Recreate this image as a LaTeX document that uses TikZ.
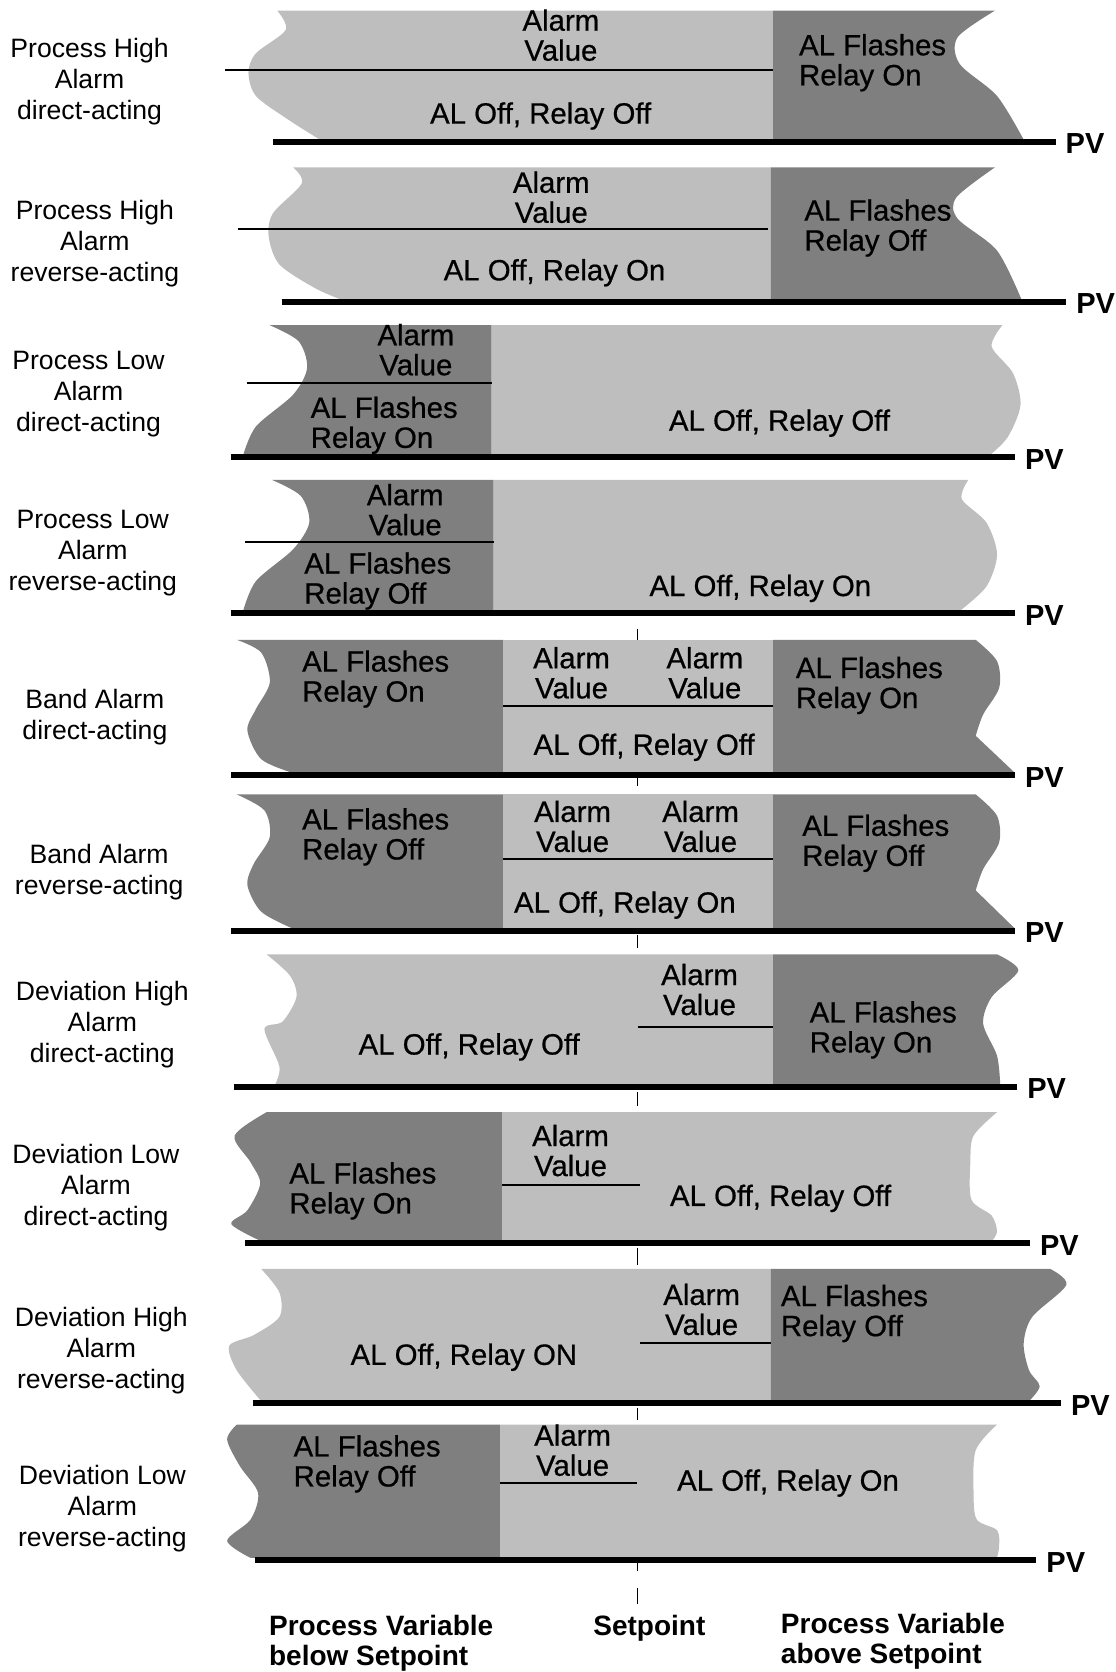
\documentclass[tikz,border=0pt]{standalone}
\usepackage{fontspec}
\setmainfont{Liberation Sans}
\newfontfamily\zonefont[FakeBold=0.6]{Liberation Sans}
\definecolor{litegray}{RGB}{190,190,190}
\definecolor{darkgray}{RGB}{127,127,127}
\begin{document}
\begin{tikzpicture}[x=0.5333pt,y=-0.5333pt,
        zonelite/.style={fill=litegray},
        zonedark/.style={fill=darkgray},
        pvbar/.style={line width=3pt},
        alim/.style={line width=1pt},
        sptick/.style={line width=0.5pt},
        pv/.style={anchor=west,inner sep=0pt,xshift=3.5pt,yshift=-1pt,font=\bfseries\fontsize{14.5}{15}\selectfont},
        box/.style={inner sep=0pt,align=center,font=\zonefont\fontsize{14.7}{15}\selectfont},
        boxs/.style={box,yshift=-1.5pt},
        boxl/.style={box,align=left,anchor=west,yshift=-1.5pt},
        side/.style={inner sep=0pt,align=center,yshift=-1.5pt,font=\fontsize{13.3}{15.5}\selectfont},
        foot/.style={inner sep=0pt,align=left,anchor=west,yshift=-1pt,font=\bfseries\fontsize{14}{15}\selectfont}]
\useasboundingbox (0,0) rectangle (1046,1568);

% setpoint marks between the bands
\foreach \a/\b in {590/600,730/737,877/889,1024/1037,1170/1186,1320/1332,1466/1473,1489/1504}
  \draw[sptick] (598,\a) -- (598,\b);

% process high, direct
\fill[zonelite] plot[smooth] coordinates {(260,10) (268,28) (240,50) (233,68) (240,90) (270,112) (300,131)} -- (725,131) -- (725,10) -- cycle;
\fill[zonedark] (725,131) -- (725,10) -- plot[smooth] coordinates {(933,10) (898,35) (900,60) (935,90) (960,131)} -- cycle;
% process high, reverse
\fill[zonelite] plot[smooth] coordinates {(275,157) (283,172) (256,200) (252,222) (262,248) (295,270) (320,281)} -- (723,281) -- (723,157) -- cycle;
\fill[zonedark] (723,281) -- (723,157) -- plot[smooth] coordinates {(933,157) (897,185) (898,205) (935,235) (958,281)} -- cycle;
% process low, direct
\fill[zonedark] plot[smooth] coordinates {(253,305) (280,320) (288,345) (275,370) (240,400) (228,427)} -- (461,427) -- (461,305) -- cycle;
\fill[zonelite] (461,427) -- (461,305) -- plot[smooth] coordinates {(940,305) (930,325) (950,350) (957,380) (945,410) (928,427)} -- cycle;
% process low, reverse
\fill[zonedark] plot[smooth] coordinates {(255,450) (282,465) (290,490) (275,515) (240,545) (228,573)} -- (463,573) -- (463,450) -- cycle;
\fill[zonelite] (463,573) -- (463,450) -- plot[smooth] coordinates {(908,450) (902,468) (925,490) (935,520) (925,550) (900,573)} -- cycle;
% band, direct
\fill[zonedark] plot[smooth] coordinates {(222,600) (245,612) (253,640) (240,665) (232,685) (245,712) (275,725)} -- (472,725) -- (472,600) -- cycle;
\fill[zonelite] (472,600) rectangle (725,725);
\fill[zonedark] (725,725) -- (725,600) -- plot[smooth] coordinates {(915,600) (935,620) (937,645) (922,670) (915,690)} -- (952,725) -- cycle;
% band, reverse
\fill[zonedark] plot[smooth] coordinates {(222,745) (248,760) (253,785) (238,810) (232,830) (245,855) (275,871)} -- (472,871) -- (472,745) -- cycle;
\fill[zonelite] (472,745) rectangle (725,871);
\fill[zonedark] (725,871) -- (725,745) -- plot[smooth] coordinates {(915,745) (935,765) (937,790) (922,815) (915,835)} -- (952,871) -- cycle;
% deviation high, direct
\fill[zonelite] plot[smooth] coordinates {(250,895) (272,915) (278,935) (265,958) (248,965) (262,1000) (258,1017)} -- (725,1017) -- (725,895) -- cycle;
\fill[zonedark] (725,1017) -- (725,895) -- plot[smooth] coordinates {(935,895) (955,910) (930,935) (922,960) (935,990) (938,1017)} -- cycle;
% deviation low, direct
\fill[zonedark] plot[smooth] coordinates {(250,1043) (220,1065) (235,1090) (244,1110) (232,1135) (217,1148) (245,1164)} -- (471,1164) -- (471,1043) -- cycle;
\fill[zonelite] (471,1164) -- (471,1043) -- plot[smooth] coordinates {(935,1043) (913,1065) (910,1090) (911,1125) (930,1140) (935,1155) (930,1164)} -- cycle;
% deviation high, reverse
\fill[zonelite] plot[smooth] coordinates {(245,1190) (262,1212) (262,1235) (238,1252) (215,1262) (222,1285) (245,1314)} -- (723,1314) -- (723,1190) -- cycle;
\fill[zonedark] (723,1314) -- (723,1190) -- plot[smooth] coordinates {(985,1190) (1000,1205) (968,1235) (960,1260) (965,1285) (975,1300) (965,1314)} -- cycle;
% deviation low, reverse
\fill[zonedark] plot[smooth] coordinates {(222,1336) (213,1350) (225,1375) (242,1400) (235,1425) (213,1445) (235,1461)} -- (469,1461) -- (469,1336) -- cycle;
\fill[zonelite] (469,1461) -- (469,1336) -- plot[smooth] coordinates {(935,1336) (915,1360) (913,1400) (916,1425) (935,1435) (937,1450) (935,1461)} -- cycle;

% alarm value lines
\draw[alim] (211,66) -- (725,66);
\draw[alim] (223,215) -- (720,215);
\draw[alim] (232,359) -- (461,359);
\draw[alim] (230,508) -- (463,508);
\draw[alim] (472,662) -- (725,662);
\draw[alim] (472,806) -- (725,806);
\draw[alim] (598,963) -- (725,963);
\draw[alim] (471,1111) -- (600,1111);
\draw[alim] (600,1259) -- (723,1259);
\draw[alim] (469,1391) -- (597,1391);

% PV axes
\foreach \n/\a/\b/\y in {1/256/990/133,2/264/1000/283,3/217/952/429,4/217/952/575,5/217/952/727,
    6/217/952/873,7/219/954/1019,8/230/966/1166,9/237/995/1316,10/239/972/1463}
  \draw[pvbar] (\a,\y) -- (\b,\y) node[pv] (pv\n) {PV};

% row names
\foreach \n/\x/\y/\t in {1/84/74/{Process High\\Alarm\\direct-acting},
    2/89/226/{Process High\\Alarm\\reverse-acting},
    3/83/367/{Process Low\\Alarm\\direct-acting},
    4/87/516/{Process Low\\Alarm\\reverse-acting},
    5/89/670/{Band Alarm\\direct-acting},
    6/93/815/{Band Alarm\\reverse-acting},
    7/96/958/{Deviation High\\Alarm\\direct-acting},
    8/90/1111/{Deviation Low\\Alarm\\direct-acting},
    9/95/1264/{Deviation High\\Alarm\\reverse-acting},
    10/96/1412/{Deviation Low\\Alarm\\reverse-acting}}
  \node[side] (name\n) at (\x,\y) {\t};

% texts in the bands
\node[box] (av1) at (526,33) {Alarm\\Value};
\node[boxs] (st1) at (507,106) {AL Off, Relay Off};
\node[boxl] (fl1) at (749,56) {AL Flashes\\Relay On};

\node[box] (av2) at (517,185) {Alarm\\Value};
\node[boxs] (st2) at (520,253) {AL Off, Relay On};
\node[boxl] (fl2) at (754,211) {AL Flashes\\Relay Off};

\node[box] (av3) at (390,328) {Alarm\\Value};
\node[boxl] (fl3) at (291,396) {AL Flashes\\Relay On};
\node[boxs] (st3) at (731,394) {AL Off, Relay Off};

\node[box] (av4) at (380,478) {Alarm\\Value};
\node[boxl] (fl4) at (285,542) {AL Flashes\\Relay Off};
\node[boxs] (st4) at (713,549) {AL Off, Relay On};

\node[boxl] (fl5a) at (283,634) {AL Flashes\\Relay On};
\node[box] (av5a) at (536,631) {Alarm\\Value};
\node[box] (av5b) at (661,631) {Alarm\\Value};
\node[boxl] (fl5b) at (746,640) {AL Flashes\\Relay On};
\node[boxs] (st5) at (604,698) {AL Off, Relay Off};

\node[boxl] (fl6a) at (283,782) {AL Flashes\\Relay Off};
\node[box] (av6a) at (537,775) {Alarm\\Value};
\node[box] (av6b) at (657,775) {Alarm\\Value};
\node[boxl] (fl6b) at (752,788) {AL Flashes\\Relay Off};
\node[boxs] (st6) at (586,846) {AL Off, Relay On};

\node[box] (av7) at (656,928) {Alarm\\Value};
\node[boxl] (fl7) at (759,963) {AL Flashes\\Relay On};
\node[boxs] (st7) at (440,979) {AL Off, Relay Off};

\node[box] (av8) at (535,1079) {Alarm\\Value};
\node[boxl] (fl8) at (271,1114) {AL Flashes\\Relay On};
\node[boxs] (st8) at (732,1121) {AL Off, Relay Off};

\node[box] (av9) at (658,1228) {Alarm\\Value};
\node[boxl] (fl9) at (732,1229) {AL Flashes\\Relay Off};
\node[boxs] (st9) at (435,1270) {AL Off, Relay ON};

\node[box] (av10) at (537,1360) {Alarm\\Value};
\node[boxl] (fl10) at (275,1370) {AL Flashes\\Relay Off};
\node[boxs] (st10) at (739,1388) {AL Off, Relay On};

% foot
\node[foot] (below) at (252,1539) {Process Variable\\below Setpoint};
\node[foot,anchor=center] (sp) at (609,1525) {Setpoint};
\node[foot] (above) at (732,1537) {Process Variable\\above Setpoint};
\end{tikzpicture}
\end{document}
